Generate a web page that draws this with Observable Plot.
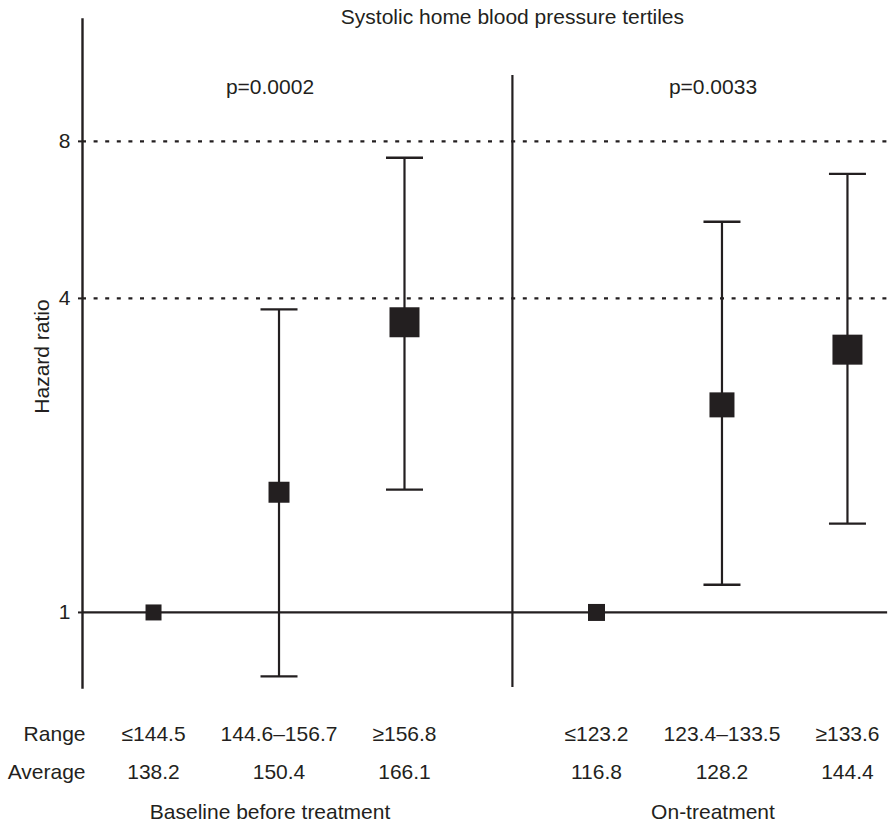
<!DOCTYPE html>
<html><head><meta charset="utf-8">
<script src="https://cdn.jsdelivr.net/npm/d3@7"></script>
<script src="https://cdn.jsdelivr.net/npm/@observablehq/plot@0.6"></script>
<style>body{margin:0;background:#fff} svg{display:block}</style>
</head><body><div id="chart"></div>
<script>
// ---- data ----
const title = "Systolic home blood pressure tertiles";
const groups = ["Baseline before treatment", "On-treatment"];
const pValues = ["p=0.0002", "p=0.0033"];
const rangeLabels = ["≤144.5", "144.6–156.7", "≥156.8", "≤123.2", "123.4–133.5", "≥133.6"];
const averages = ["138.2", "150.4", "166.1", "116.8", "128.2", "144.4"];
const hazardRatio = [1, 1.70, 3.60, 1, 2.50, 3.19];
const ciLower = [null, 0.754, 1.72, null, 1.13, 1.48];
const ciUpper = [null, 3.81, 7.44, null, 5.61, 6.93];
const markerWeight = [16, 21, 30, 17, 25, 30];
const yTicks = [1, 4, 8];
const refLines = [4, 8];
const rowHeaders = ["Range", "Average"];

// ---- layout ----
const INK = "#231f20";
const GAP = 3.53;           // slot offset of second group
const X0 = 0.434, X1 = 6.865;
const DIVIDER = 3.86;
const Y0 = 0.718, Y1 = 13.7;

const rows = hazardRatio.map((hr, i) => {
  const g = Math.floor(i / 3), t = i % 3 + 1;
  return {g, t, x: t + g * GAP, hr, lo: ciLower[i], hi: ciUpper[i], w: markerWeight[i], range: rangeLabels[i], avg: averages[i]};
});
const ci = rows.filter(d => d.lo != null);
const groupRows = groups.map((name, g) => ({name, p: pValues[g], x: d3.mean(rows.filter(r => r.g === g), r => r.x)}));
const cap = {draw(ctx) { ctx.moveTo(-18.5, 0); ctx.lineTo(18.5, 0); }};
const txt = {fill: INK, fontSize: 21, lineAnchor: "bottom"};

const plot = Plot.plot({
  width: 889, height: 826,
  marginLeft: 82, marginRight: 0, marginTop: 19, marginBottom: 139,
  style: {fontFamily: "'Liberation Sans', Arial, Helvetica, sans-serif", fontSize: "21px", color: INK, background: "#fff"},
  x: {domain: [X0, X1], axis: null},
  y: {type: "log", domain: [Y0, Y1], axis: null},
  r: {type: "linear", domain: [0, 30], range: [0, 30 / Math.sqrt(Math.PI)]},
  marks: [
    Plot.ruleY(refLines, {stroke: INK, strokeWidth: 2.2, strokeDasharray: "4,7.6"}),
    Plot.ruleY([1], {x1: X0, x2: 6.85, stroke: INK, strokeWidth: 2.2}),
    Plot.ruleX([DIVIDER], {y1: 10.7, y2: Y0, stroke: INK, strokeWidth: 2.2}),
    Plot.frame({anchor: "left", stroke: INK, strokeWidth: 2.4}),
    Plot.axisY({ticks: yTicks, tickSize: 4, tickPadding: 8, tickFormat: d => String(d), fontSize: 21, stroke: INK, fill: INK, strokeWidth: 2, label: null}),
    Plot.ruleX(ci, {x: "x", y1: "lo", y2: "hi", stroke: INK, strokeWidth: 2.2}),
    Plot.dot(ci, {x: "x", y: "lo", symbol: cap, r: 1, fill: "none", stroke: INK, strokeWidth: 2.4}),
    Plot.dot(ci, {x: "x", y: "hi", symbol: cap, r: 1, fill: "none", stroke: INK, strokeWidth: 2.4}),
    Plot.dot(rows, {x: "x", y: "hr", r: "w", symbol: "square", fill: INK, stroke: "none"}),
    // texts
    Plot.text([title], {x: DIVIDER, frameAnchor: "top", dy: 4, ...txt}),
    Plot.text(groupRows, {x: "x", text: "p", frameAnchor: "top", dy: 74, dx: -9, ...txt}),
    Plot.text(["Hazard ratio"], {frameAnchor: "left", textAnchor: "middle", rotate: -90, dx: -34, dy: 3, ...txt}),
    Plot.text(rows, {x: "x", text: "range", frameAnchor: "bottom", dy: 53, ...txt}),
    Plot.text(rows, {x: "x", text: "avg", frameAnchor: "bottom", dy: 91, ...txt}),
    Plot.text([rowHeaders[0]], {frameAnchor: "bottom-left", textAnchor: "end", dx: 3, dy: 53, ...txt}),
    Plot.text([rowHeaders[1]], {frameAnchor: "bottom-left", textAnchor: "end", dx: 3, dy: 91, ...txt}),
    Plot.text(groupRows, {x: "x", text: "name", frameAnchor: "bottom", dy: 131, dx: -9, ...txt})
  ]
});
document.getElementById("chart").appendChild(plot);
</script>
</body></html>
